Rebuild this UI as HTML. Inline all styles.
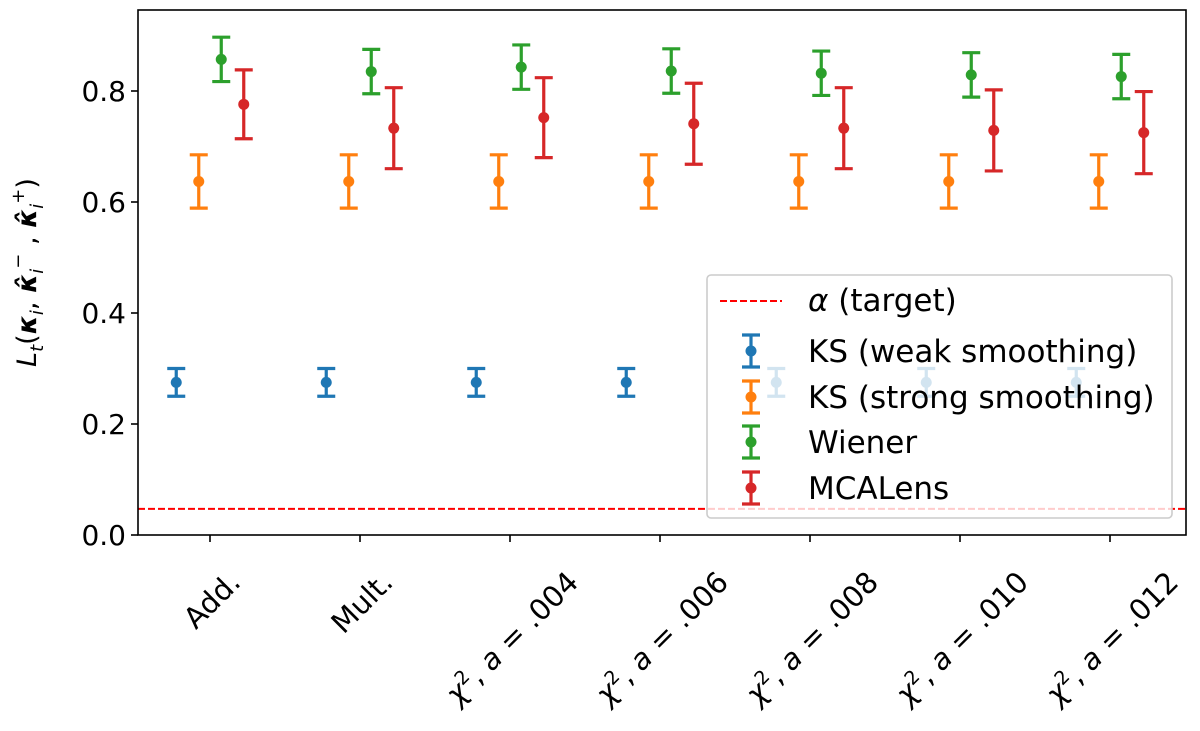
<!DOCTYPE html>
<html><head><meta charset="utf-8">
<style>
body{margin:0;background:#fff;}
svg text{font-family:"DejaVu Sans","Liberation Sans",sans-serif;}
</style></head>
<body>
<svg id="chart" width="1200" height="726" xmlns="http://www.w3.org/2000/svg">
<g id="plot"></g>
</svg>
<script>
const categories = ["Add.", "Mult.", ".004", ".006", ".008", ".010", ".012"];
const seriesNames = ["KS (weak smoothing)", "KS (strong smoothing)", "Wiener", "MCALens"];
const ksWeak = [0.275, 0.275, 0.275, 0.275, 0.275, 0.275, 0.275];
const ksWeakErr = [0.025, 0.025, 0.025, 0.025, 0.025, 0.025, 0.025];
const ksStrong = [0.637, 0.637, 0.637, 0.637, 0.637, 0.637, 0.637];
const ksStrongErr = [0.048, 0.048, 0.048, 0.048, 0.048, 0.048, 0.048];
const wiener = [0.857, 0.835, 0.843, 0.836, 0.832, 0.829, 0.826];
const wienerErr = [0.04, 0.04, 0.04, 0.04, 0.04, 0.04, 0.04];
const mcalens = [0.776, 0.733, 0.752, 0.741, 0.733, 0.729, 0.725];
const mcalensErr = [0.062, 0.073, 0.072, 0.073, 0.073, 0.073, 0.074];
const alphaTarget = 0.047;
const yTicks = [0.0, 0.2, 0.4, 0.6, 0.8];

const NS = "http://www.w3.org/2000/svg";
const g = document.getElementById("plot");
const L = 138, R = 1186, T = 10, B = 535;
function yS(v){ return B - v * 555; }
function xS(i){ return 210 + i * 150; }
const offsets = [-33.75, -11.25, 11.25, 33.75];
const colors = ["#1f77b4", "#ff7f0e", "#2ca02c", "#d62728"];
const vals = [ksWeak, ksStrong, wiener, mcalens];
const errs = [ksWeakErr, ksStrongErr, wienerErr, mcalensErr];
function mk(tag, attrs, parent){
  const e = document.createElementNS(NS, tag);
  for (const k in attrs) e.setAttribute(k, attrs[k]);
  (parent || g).appendChild(e);
  return e;
}
const al = mk("line", {x1: L, x2: R, y1: yS(alphaTarget), y2: yS(alphaTarget), stroke: "#ff0000", "stroke-width": 2, "stroke-dasharray": "7,3"});


for (let s = 0; s < 4; s++) {
  for (let i = 0; i < categories.length; i++) {
    const x = xS(i) + offsets[s], v = vals[s][i], e = errs[s][i];
    const grp = mk("g", {stroke: colors[s], "stroke-width": 3.2});
    
    
    mk("line", {x1: x, x2: x, y1: yS(v - e), y2: yS(v + e)}, grp);
    mk("line", {x1: x - 9, x2: x + 9, y1: yS(v - e), y2: yS(v - e)}, grp);
    mk("line", {x1: x - 9, x2: x + 9, y1: yS(v + e), y2: yS(v + e)}, grp);
    mk("circle", {cx: x, cy: yS(v), r: 5.5, fill: colors[s], stroke: "none"}, grp);
  }
}
const fr = mk("rect", {x: L, y: T, width: R - L, height: B - T, fill: "none", stroke: "#000", "stroke-width": 1.6});


yTicks.forEach(t => {
  mk("line", {x1: L - 7, x2: L, y1: yS(t), y2: yS(t), stroke: "#000", "stroke-width": 1.6});
  const tx = mk("text", {x: L - 12, y: yS(t) + 10, "text-anchor": "end", "font-size": 28});
  tx.textContent = t.toFixed(1);
  
  
});
const yt = mk("text", {transform: "translate(36," + ((T + B) / 2) + ") rotate(-90)", "text-anchor": "middle", "font-size": 27});
yt.innerHTML = '<tspan font-style="italic">L</tspan><tspan font-style="italic" font-size="18" dy="7">t</tspan><tspan dy="-7">(</tspan><tspan font-weight="bold" font-style="italic">κ</tspan><tspan font-style="italic" font-size="18" dy="7">i</tspan><tspan dy="-7">, </tspan><tspan font-weight="bold" font-style="italic">κ̂</tspan><tspan font-style="italic" font-size="18" dy="7">i</tspan><tspan font-size="18" dy="-19">−</tspan><tspan dy="12"> , </tspan><tspan font-weight="bold" font-style="italic">κ̂</tspan><tspan font-style="italic" font-size="18" dy="7">i</tspan><tspan font-size="18" dy="-19">+</tspan><tspan dy="12">)</tspan>';


categories.forEach((c, i) => {
  const x = xS(i);
  mk("line", {x1: x, x2: x, y1: B, y2: B + 7, stroke: "#000", "stroke-width": 1.6});
  const tx = mk("text", {"text-anchor": "end", "font-size": 29});
  if (i < 2) tx.textContent = c;
  else tx.innerHTML = '<tspan font-style="italic">χ</tspan><tspan font-size="19" dy="-11">2</tspan><tspan dy="11">, </tspan><tspan font-style="italic">a</tspan> = ' + c;
  
  
  const len = tx.getComputedTextLength();
  const ex = x + len / (2 * Math.SQRT2) + 9, ey = 584;
  tx.setAttribute("transform", "translate(" + ex + "," + ey + ") rotate(-45)");
});
const lg = mk("g", {});


mk("rect", {x: 707, y: 275, width: 465, height: 243, rx: 4, fill: "#fff", "fill-opacity": 0.8, stroke: "#ccc", "stroke-width": 1.6}, lg);
mk("line", {x1: 720, x2: 782, y1: 301, y2: 301, stroke: "#ff0000", "stroke-width": 2, "stroke-dasharray": "7,3"}, lg);
const lt0 = mk("text", {x: 808, y: 311, "font-size": 31}, lg);
lt0.innerHTML = '<tspan font-style="italic">α</tspan> (target)';


const legY = [351, 397, 442, 488];
for (let s = 0; s < 4; s++) {
  const cy = legY[s], x = 751;
  const eg = mk("g", {stroke: colors[s], "stroke-width": 3.2}, lg);
  
  
  mk("line", {x1: x, x2: x, y1: cy - 16, y2: cy + 16}, eg);
  mk("line", {x1: x - 9, x2: x + 9, y1: cy - 16, y2: cy - 16}, eg);
  mk("line", {x1: x - 9, x2: x + 9, y1: cy + 16, y2: cy + 16}, eg);
  mk("circle", {cx: x, cy: cy, r: 5.5, fill: colors[s], stroke: "none"}, eg);
  const t = mk("text", {x: 808, y: cy + 11, "font-size": 31}, lg);
  t.textContent = seriesNames[s];
  
  
}
</script>
</body></html>
